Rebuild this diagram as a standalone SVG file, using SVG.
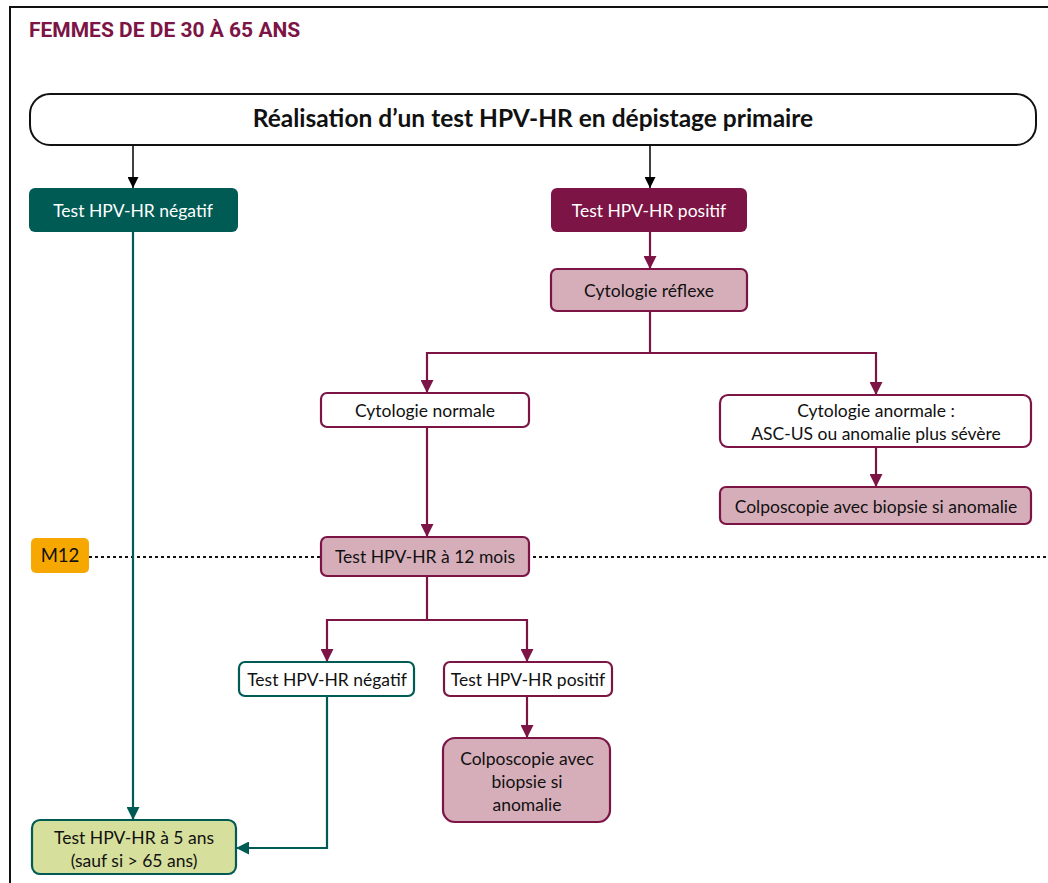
<svg xmlns="http://www.w3.org/2000/svg" width="1048" height="883" viewBox="0 0 1048 883">
<defs>
<style>
.t{font-family:Lato,"Open Sans","Liberation Sans",sans-serif;font-size:17.5px;text-anchor:middle;fill:#111}
.w{fill:#fff}
.m{stroke:#7c1445;stroke-width:2.2}
.g{stroke:#005b55;stroke-width:2.2}
.c{fill:none}
</style>
<marker id="ab" viewBox="0 0 10 10" refX="10" refY="5" markerWidth="11" markerHeight="11" markerUnits="userSpaceOnUse" orient="auto"><path d="M0,0L10,5L0,10z" fill="#000"/></marker>
<marker id="am" viewBox="0 0 10 10" refX="10" refY="5" markerWidth="13" markerHeight="13" markerUnits="userSpaceOnUse" orient="auto"><path d="M0,0L10,5L0,10z" fill="#7c1445"/></marker>
<marker id="ag" viewBox="0 0 10 10" refX="10" refY="5" markerWidth="13" markerHeight="13" markerUnits="userSpaceOnUse" orient="auto"><path d="M0,0L10,5L0,10z" fill="#005b55"/></marker>
</defs>
<rect width="1048" height="883" fill="#fff"/>
<path d="M10,883V7H1048" fill="none" stroke="#111" stroke-width="2"/>
<text x="29" y="37" font-family="Roboto,'Liberation Sans',sans-serif" font-weight="bold" font-size="21" fill="#7c1445">FEMMES DE DE 30 À 65 ANS</text>
<g id="connectors" class="c">
<line x1="89" y1="557" x2="1048" y2="557" stroke="#111" stroke-width="2" stroke-dasharray="3,3"/>
<path d="M133,145V188" stroke="#111" stroke-width="1.6" marker-end="url(#ab)"/>
<path d="M650,145V188" stroke="#111" stroke-width="1.6" marker-end="url(#ab)"/>
<path d="M650,232V269" class="m" marker-end="url(#am)"/>
<path d="M650,311V353H427V393" class="m" marker-end="url(#am)"/>
<path d="M650,353H876V395" class="m" marker-end="url(#am)"/>
<path d="M876,447V487" class="m" marker-end="url(#am)"/>
<path d="M427,427V537" class="m" marker-end="url(#am)"/>
<path d="M427,576V620H327V662" class="m" marker-end="url(#am)"/>
<path d="M427,620H527V662" class="m" marker-end="url(#am)"/>
<path d="M527,696V738" class="m" marker-end="url(#am)"/>
<path d="M133,232V820" class="g" marker-end="url(#ag)"/>
<path d="M327,696V848H236" class="g" marker-end="url(#ag)"/>
</g>
<g id="n-main"><rect x="30" y="94" width="1006" height="51" rx="20" fill="#fff" stroke="#111" stroke-width="2"/>
<text class="t" x="533" y="127" style="font-size:24.5px;font-weight:bold">Réalisation d’un test HPV-HR en dépistage primaire</text></g>
<g id="n-neg"><rect x="29" y="188" width="209" height="44" rx="6" fill="#005b55"/>
<text class="t w" x="133" y="217">Test HPV-HR négatif</text></g>
<g id="n-pos"><rect x="551" y="188" width="196" height="44" rx="6" fill="#7c1445"/>
<text class="t w" x="649" y="217">Test HPV-HR positif</text></g>
<g id="n-cyto"><rect x="551" y="269" width="196" height="42" rx="6" fill="#d6aeba" class="m"/>
<text class="t" x="649" y="297">Cytologie réflexe</text></g>
<g id="n-cnorm"><rect x="321" y="393" width="208" height="34" rx="6" fill="#fff" class="m"/>
<text class="t" x="425" y="417">Cytologie normale</text></g>
<g id="n-canorm"><rect x="720" y="395" width="311" height="52" rx="8" fill="#fff" class="m"/>
<text class="t" x="876" y="417">Cytologie anormale :</text>
<text class="t" x="876" y="440">ASC-US ou anomalie plus sévère</text></g>
<g id="n-colpo1"><rect x="720" y="487" width="311" height="37" rx="6" fill="#d6aeba" class="m"/>
<text class="t" x="876" y="513">Colposcopie avec biopsie si anomalie</text></g>
<g id="n-m12"><rect x="31" y="538" width="58" height="35" rx="5" fill="#f6a800"/>
<text class="t" x="60" y="562" style="font-size:18.5px">M12</text></g>
<g id="n-t12"><rect x="321" y="537" width="208" height="39" rx="6" fill="#d6aeba" class="m"/>
<text class="t" x="425" y="563">Test HPV-HR à 12 mois</text></g>
<g id="n-neg2"><rect x="239" y="662" width="175" height="34" rx="6" fill="#fff" class="g"/>
<text class="t" x="327" y="686">Test HPV-HR négatif</text></g>
<g id="n-pos2"><rect x="444" y="662" width="168" height="34" rx="6" fill="#fff" class="m"/>
<text class="t" x="528" y="686">Test HPV-HR positif</text></g>
<g id="n-colpo2"><rect x="443" y="738" width="167" height="84" rx="12" fill="#d6aeba" class="m"/>
<text class="t" x="527" y="765">Colposcopie avec</text>
<text class="t" x="527" y="788">biopsie si</text>
<text class="t" x="527" y="811">anomalie</text></g>
<g id="n-5ans"><rect x="32" y="820" width="204" height="54" rx="8" fill="#d6df9b" class="g"/>
<text class="t" x="134" y="844">Test HPV-HR à 5 ans</text>
<text class="t" x="134" y="867">(sauf si &gt; 65 ans)</text></g>
</svg>
